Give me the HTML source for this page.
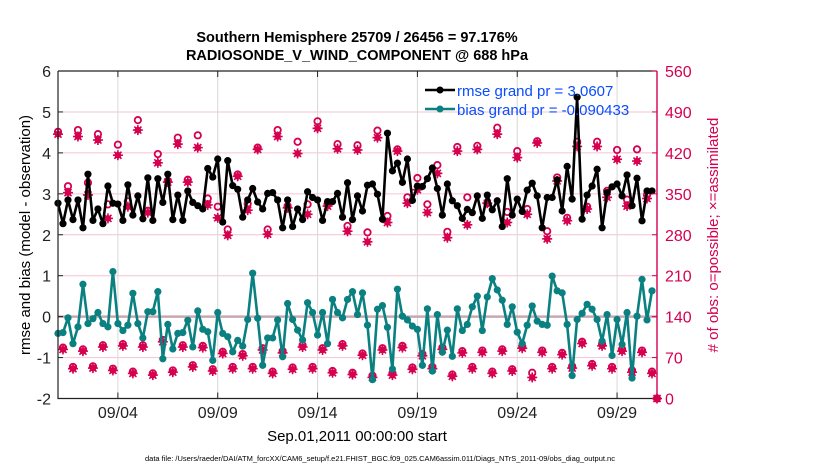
<!DOCTYPE html>
<html><head><meta charset="utf-8"><style>
body{margin:0;background:#fff;}
svg{display:block;font-family:"Liberation Sans",sans-serif;}
</style></head><body>
<svg id="chart" width="830" height="470" viewBox="0 0 830 470" xmlns="http://www.w3.org/2000/svg">
<rect width="830" height="470" fill="#fff"/>
<text x="357" y="42" text-anchor="middle" font-size="14.5" font-weight="bold">Southern Hemisphere 25709 / 26456 = 97.176%</text>
<text x="357" y="60" text-anchor="middle" font-size="14.5" font-weight="bold">RADIOSONDE_V_WIND_COMPONENT @ 688 hPa</text>
<g id="grid"></g><g id="marks"></g><g id="axes"></g>
<text x="357" y="441" text-anchor="middle" font-size="15">Sep.01,2011 00:00:00 start</text>
<text transform="translate(30,235) rotate(-90)" text-anchor="middle" font-size="15">rmse and bias (model - observation)</text>
<text transform="translate(718,235) rotate(-90)" text-anchor="middle" font-size="15" fill="#d5004f"># of obs: o=possible; ×=assimilated</text>
<text x="145" y="461" font-size="7.5">data file: /Users/raeder/DAI/ATM_forcXX/CAM6_setup/f.e21.FHIST_BGC.f09_025.CAM6assim.011/Diags_NTrS_2011-09/obs_diag_output.nc</text>
<g>
<line x1="425" y1="90" x2="455" y2="90" stroke="#000" stroke-width="2.5"/><circle cx="440" cy="90" r="3.5" fill="#000"/>
<text x="457" y="96" font-size="15" fill="#0a4cff">rmse grand pr = 3.0607</text>
<line x1="425" y1="109" x2="455" y2="109" stroke="#0a8080" stroke-width="2.5"/><circle cx="440" cy="109" r="3.5" fill="#0a8080"/>
<text x="457" y="115" font-size="15" fill="#0a4cff">bias grand pr = -0.090433</text>
</g>
</svg>
<script>
const dateTicks=["09/04","09/09","09/14","09/19","09/24","09/29"];
const dateTickDays=[3,8,13,18,23,28];
const leftTicks=[-2,-1,0,1,2,3,4,5,6];
const rightTicks=[0,70,140,210,280,350,420,490,560];
const rmse=[2.77,2.27,2.85,2.37,2.85,2.17,3.48,2.35,2.63,2.27,3.19,2.77,2.75,2.35,3.22,2.48,2.95,2.39,3.39,2.35,3.37,2.79,3.48,2.37,2.97,2.35,3.07,2.79,2.71,2.63,3.62,3.41,3.85,2.31,3.81,3.20,3.11,2.43,2.85,3.13,2.80,2.63,3.01,3.03,2.85,2.17,2.85,2.20,2.63,2.37,3.05,2.91,2.85,2.35,2.81,2.81,3.01,2.43,3.27,2.37,2.95,
2.58,3.21,3.24,2.99,2.38,4.48,3.56,3.75,3.28,3.85,2.84,3.19,3.18,3.37,3.63,3.13,2.48,3.24,2.83,2.71,2.40,2.62,2.54,2.95,2.40,2.97,2.61,2.83,2.20,3.37,2.48,2.87,2.57,3.09,3.26,2.95,2.17,2.91,2.91,3.34,2.58,3.67,2.87,5.36,2.38,2.97,3.19,3.60,2.17,3.03,3.17,3.24,2.95,3.46,2.71,3.38,2.34,3.07,3.07];
const bias=[-0.41,-0.39,-0.03,-0.66,-0.25,0.79,-0.17,-0.05,0.10,-0.17,-0.25,1.10,-0.17,-0.34,-0.21,0.57,-0.17,-0.52,0.12,0.12,0.61,-1.03,-0.19,-0.79,-0.41,-0.39,-0.09,-0.74,0.14,-0.31,-0.37,-1.07,0.10,-0.41,-0.49,-0.86,-0.58,-0.72,-0.07,1.06,-0.04,-1.19,-0.52,-0.52,-0.08,-0.98,0.32,-0.07,-0.33,-0.57,0.34,0.10,-0.45,0.10,-0.66,0.42,0.10,-0.03,0.42,0.61,0.05,
0.58,-0.21,-1.54,0.18,0.27,-0.26,-1.28,0.67,0.01,-0.08,-0.23,-0.31,-1.19,0.19,-1.33,0.05,-0.87,-0.33,-0.97,0.19,-0.34,-0.19,0.24,0.50,-0.34,0.48,0.93,0.65,0.40,-0.19,0.24,-0.38,-0.66,-0.21,0.26,-0.11,-0.19,-0.21,0.99,0.63,0.58,-0.19,-1.44,-0.07,0.08,0.30,0.18,-0.07,-0.60,0.05,-0.95,-0.07,-0.68,0.10,-1.50,0.01,0.91,-0.08,0.63];
const possible=[456,87,363,54,459,84,369,55,452,91,332,51,434,93,337,46,476,91,321,43,418,100,372,48,446,91,374,57,450,90,342,50,328,80,289,54,383,76,333,54,429,86,289,46,459,81,329,53,439,91,332,54,474,86,332,47,435,93,295,44,433,
77,284,39,458,86,312,43,426,90,344,53,377,76,332,54,399,87,285,41,430,81,344,54,432,82,334,46,463,84,319,50,423,89,324,44,440,82,286,54,378,78,309,55,439,97,328,59,439,93,355,54,425,84,340,48,426,82,348,46,0];
const assimilated=[452,84,352,51,448,81,348,52,442,88,308,48,416,90,328,43,459,88,318,40,403,97,370,45,435,88,370,54,429,87,331,47,309,77,279,51,380,73,322,51,426,83,281,43,448,78,326,50,419,88,315,51,462,83,329,44,427,90,286,41,425,
74,268,36,446,83,301,40,423,87,334,50,357,73,318,51,385,84,275,38,423,78,297,51,426,79,334,43,452,81,301,47,412,86,315,36,437,79,273,51,372,75,304,52,431,94,324,56,431,90,344,51,409,81,329,45,406,79,342,43,0];

const NS='http://www.w3.org/2000/svg';
const L=58,R=657,T=71,B=398.5;
const xs=d=>L+(R-L)*d/30;
const yl=v=>B-(B-T)*(v+2)/8;
const yr=v=>B-(B-T)*v/560;
const idxDay=i=>i*0.25;
function mk(tag,attrs,parent){const e=document.createElementNS(NS,tag);for(const k in attrs)e.setAttribute(k,attrs[k]);parent.appendChild(e);return e;}
const grid=document.getElementById('grid'),marks=document.getElementById('marks'),axes=document.getElementById('axes');
const MAG='#d5004f',TEAL='#0a8080';
// grid
leftTicks.forEach(v=>{const g=mk('line',{x1:L,x2:R,y1:yl(v),y2:yl(v),stroke:'#f2c4d4','stroke-width':1},grid);

});
dateTickDays.forEach(d=>{const g=mk('line',{x1:xs(d),x2:xs(d),y1:T,y2:B,stroke:'#d8d8d8','stroke-width':1},grid);

});
const zl=mk('line',{x1:L,x2:R,y1:yl(0),y2:yl(0),stroke:'#c8a8b0','stroke-width':2.5},grid);


// obs counts
function star(x,y,p){const g=mk('g',{},p);


mk('circle',{cx:x,cy:y,r:3.3,fill:MAG},g);
[0,45,90,135].forEach(a=>{const r=a*Math.PI/180;mk('line',{x1:x-5*Math.cos(r),y1:y-5*Math.sin(r),x2:x+5*Math.cos(r),y2:y+5*Math.sin(r),stroke:MAG,'stroke-width':1.6},g);});}
possible.forEach((v,i)=>{const c=mk('circle',{cx:xs(idxDay(i)),cy:yr(v),r:3.2,fill:'none',stroke:MAG,'stroke-width':1.8},marks);

});
assimilated.forEach((v,i)=>star(xs(idxDay(i)),yr(v),marks));
// series
function series(vals,color,name){const pts=vals.map((v,i)=>xs(idxDay(i)).toFixed(1)+','+yl(v).toFixed(1)).join(' ');
const pl=mk('polyline',{points:pts,fill:'none',stroke:color,'stroke-width':2.6,'stroke-linejoin':'round'},marks);


vals.forEach((v,i)=>{const c=mk('circle',{cx:xs(idxDay(i)),cy:yl(v),r:3.6,fill:color},marks);

});}
series(rmse,'#000','rmse');
series(bias,TEAL,'bias');
// axes
const fr=mk('path',{d:`M${L},${T}H${R-0.5}M${L},${T}V${B}H${R}`,stroke:'#222','stroke-width':1.2,fill:'none'},axes);


const ra=mk('line',{x1:R,x2:R,y1:T,y2:B,stroke:MAG,'stroke-width':1.4},axes);


leftTicks.forEach(v=>{mk('line',{x1:L,x2:L+5,y1:yl(v),y2:yl(v),stroke:'#222'},axes);
const t=mk('text',{x:L-7,y:yl(v)+6,'text-anchor':'end','font-size':16,fill:'#222'},axes);t.textContent=v;

});
rightTicks.forEach(v=>{mk('line',{x1:R-5,x2:R,y1:yr(v),y2:yr(v),stroke:MAG},axes);
const t=mk('text',{x:R+8,y:yr(v)+6,'font-size':16,fill:MAG},axes);t.textContent=v;

});
dateTicks.forEach((lab,i)=>{const x=xs(dateTickDays[i]);mk('line',{x1:x,x2:x,y1:B,y2:B-6,stroke:'#222'},axes);mk('line',{x1:x,x2:x,y1:T,y2:T+6,stroke:'#222'},axes);
const t=mk('text',{x:x,y:418,'text-anchor':'middle','font-size':16,fill:'#222'},axes);t.textContent=lab;

});
</script>
</body></html>
